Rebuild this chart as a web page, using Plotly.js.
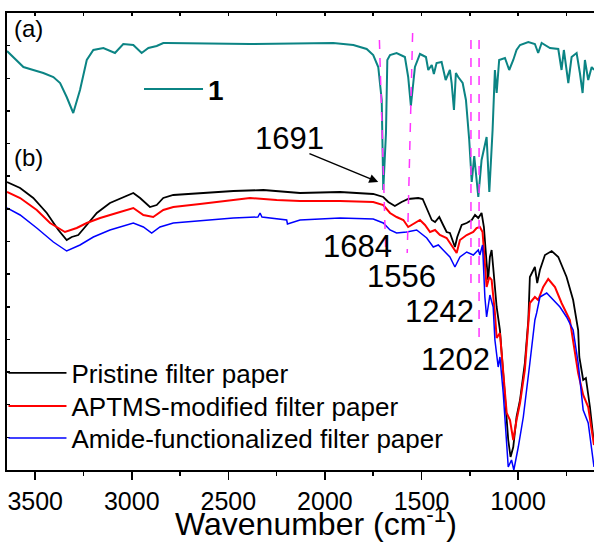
<!DOCTYPE html>
<html>
<head>
<meta charset="utf-8">
<script src="https://cdn.plot.ly/plotly-3.0.1.min.js"></script>
<style>html,body{margin:0;padding:0;background:#fff;}#chart{width:594px;height:543px;}</style>
</head>
<body>
<div id="chart"></div>
<script>
// ---- Data (wavenumber in cm^-1, transmittance in arbitrary units) ----
const waveA = [3646,3613,3561,3510,3458,3406,3371,3337,3303,3268,3233,3199,3147,3087,3044,2992,2949,2914,2871,2837,2819,2388,2129,1957,1853,1784,1750,1724,1706,1698,1684,1677,1663,1629,1586,1569,1555,1534,1508,1477,1465,1447,1436,1422,1396,1375,1353,1344,1332,1322,1310,1287,1270,1253,1240,1227,1206,1189,1163,1149,1132,1120,1111,1098,1068,1046,1025,1008,990,947,913,896,878,835,792,775,763,740,723,697,680,666,654,637,619,607];
const transA = [419,413,403,400,397,393,387,373,357,380,410,420,422,417,426,425,417,422,424,427,427,426,427,427,425,421,415,403,370,280,337,410,415,417,413,393,364,403,416,413,400,405,396,407,408,390,400,387,360,397,393,387,370,330,288,314,273,310,333,278,340,400,377,410,412,400,410,420,425,428,426,417,427,422,421,400,420,387,413,417,397,377,410,390,403,400];

const waveBlack = [3646,3578,3510,3440,3380,3337,3311,3277,3233,3181,3113,3044,2992,2957,2906,2871,2837,2785,2647,2474,2319,2216,2129,1922,1750,1698,1672,1638,1603,1569,1517,1494,1473,1447,1430,1408,1388,1370,1353,1327,1315,1292,1266,1240,1223,1206,1189,1177,1163,1155,1146,1137,1129,1111,1094,1077,1059,1051,1039,1025,1008,990,965,947,939,913,901,887,861,826,792,749,715,689,683,663,649,628,611,607];
const transBlack = [288,282,272,257,240,230,233,235,245,257,267,273,277,272,263,265,272,275,277,279,280,278,277,278,276,273,268,264,268,271,272,271,262,250,248,253,245,238,237,223,233,245,247,250,255,252,257,243,207,190,213,220,203,163,140,100,57,30,13,23,53,70,107,150,193,203,187,200,215,219,213,193,170,140,113,90,92,63,33,30];

const waveRed = [3646,3578,3492,3423,3346,3285,3233,3164,3078,2992,2940,2889,2837,2785,2647,2474,2388,2250,2129,1922,1750,1698,1663,1629,1594,1569,1534,1508,1482,1456,1430,1405,1370,1336,1318,1301,1266,1232,1215,1198,1184,1172,1163,1149,1137,1120,1111,1094,1077,1059,1042,1025,1008,990,965,939,913,896,870,844,809,775,732,689,663,637,611,607];
const transRed = [278,272,260,247,238,242,247,252,257,262,255,253,260,263,266,270,272,270,269,269,268,265,257,253,250,243,247,250,245,238,240,235,232,222,217,230,235,238,242,243,238,207,183,193,190,157,132,137,100,57,50,30,50,67,100,167,173,170,183,191,183,167,150,97,75,63,30,25];

const waveBlue = [3646,3578,3492,3406,3337,3268,3199,3113,2992,2940,2897,2854,2785,2647,2474,2347,2336,2326,2198,2194,2129,1922,1750,1698,1663,1629,1577,1525,1473,1439,1413,1388,1353,1327,1301,1266,1232,1206,1198,1184,1172,1163,1146,1129,1120,1103,1094,1077,1059,1051,1034,1022,999,973,939,913,904,887,852,818,783,749,715,689,663,637,619,607];
const transBlue = [262,255,242,228,219,225,233,240,247,243,237,243,247,249,252,253,257,253,250,246,250,252,251,247,240,237,238,240,232,223,225,220,213,203,213,218,215,220,215,225,173,153,175,163,130,103,113,77,23,3,10,0,23,53,107,150,157,173,177,170,163,153,140,107,60,47,23,3];

const seriesNames = ['Pristine filter paper','APTMS-modified filter paper','Amide-functionalized filter paper'];
const seriesColors = ['#000000','#ff0000','#0000ff'];
const seriesA = '1';
const xTickVals = [3500,3000,2500,2000,1500,1000];
const xTickText = ['3500','3000','2500','2000','1500','1000'];
const peakLabels = ['1691','1684','1556','1242','1202'];
const peakLabelX = [2181,1832,1606,1405,1324];
const peakLabelY = [332,224,194,159,111];
const panelLabels = ['(a)','(b)'];
// dashed marker lines: [x0, y0, x1, y1]
const markerX0 = [1718,1546,1244,1202];
const markerY0 = [430,437,430,430];
const markerX1 = [1686,1574,1244,1202];
const markerY1 = [223,217,187,133];

const FONT = 'Arial, "Liberation Sans", Helvetica, sans-serif';

const traces = [
  {x: waveA, y: transA, type:'scatter', mode:'lines', name: seriesA, xaxis:'x2', yaxis:'y',
   line:{color:'#0b8484', width:2}, legend:'legend2'},
  {x: waveBlack, y: transBlack, type:'scatter', mode:'lines', name: seriesNames[0], line:{color:seriesColors[0], width:1.8}, legend:'legend'},
  {x: waveRed, y: transRed, type:'scatter', mode:'lines', name: seriesNames[1], line:{color:seriesColors[1], width:2}, legend:'legend3'},
  {x: waveBlue, y: transBlue, type:'scatter', mode:'lines', name: seriesNames[2], line:{color:seriesColors[2], width:1.5}, legend:'legend4'}
];

const shapes = markerX0.map((x0,i)=>({type:'line', xref:'x', yref:'y', x0:x0, y0:markerY0[i], x1:markerX1[i], y1:markerY1[i],
  line:{color:'#ff33ff', width:1.5, dash:'dash'}}));

const annotations = [];
peakLabels.forEach((t,i)=>annotations.push({x:peakLabelX[i], y:peakLabelY[i], xref:'x', yref:'y', text:t, showarrow:false,
  font:{family:FONT, size:31, color:'#000'}, xanchor:'center', yanchor:'middle'}));
annotations.push({x:1724, y:288, ax:2088, ay:317, xref:'x', yref:'y', axref:'x', ayref:'y', text:'', showarrow:true,
  arrowhead:2, arrowsize:1.2, arrowwidth:1.5, arrowcolor:'#000'});
annotations.push({x:0.036, y:0.967, xref:'paper', yref:'paper', text:panelLabels[0], showarrow:false,
  font:{family:FONT, size:24, color:'#000'}, xanchor:'center', yanchor:'middle'});
annotations.push({x:0.036, y:0.683, xref:'paper', yref:'paper', text:panelLabels[1], showarrow:false,
  font:{family:FONT, size:24, color:'#000'}, xanchor:'center', yanchor:'middle'});
annotations.push({x:0.526, y:-0.1597, xref:'paper', yref:'paper', text:'Wavenumber (cm<sup>-1</sup>)', showarrow:false,
  font:{family:FONT, size:32, color:'#000'}, xanchor:'center', yanchor:'bottom', borderpad:0});

const legFont = {family:FONT, size:26, color:'#000'};
const legBase = {x:-0.006, xanchor:'left', yanchor:'top', bgcolor:'rgba(0,0,0,0)', borderwidth:0, font:legFont, itemwidth:58};

const layout = {
  width:594, height:543,
  margin:{l:7, r:0, t:13, b:73},
  paper_bgcolor:'#fff', plot_bgcolor:'#fff',
  font:{family:FONT, color:'#000'},
  showlegend:true,
  xaxis:{range:[3646,607], showgrid:false, zeroline:false, showline:true, linecolor:'#000', linewidth:2,
    ticks:'outside', ticklen:8, tickwidth:1.5, tickcolor:'#000', tickvals:xTickVals, ticktext:xTickText,
    tickfont:{family:FONT, size:25, color:'#000'},
    minor:{ticks:'outside', ticklen:4, tickwidth:1.5, tickcolor:'#000', dtick:250, tick0:1000}},
  xaxis2:{matches:'x', overlaying:'x', side:'top', anchor:'y', showgrid:false, zeroline:false, showline:true,
    linecolor:'#000', linewidth:2, ticks:'inside', ticklen:3, tickwidth:1.5, tickcolor:'#000', tick0:1000, dtick:250,
    showticklabels:false},
  yaxis:{range:[0,457], showgrid:false, zeroline:false, showline:true, linecolor:'#000', linewidth:2,
    ticks:'inside', ticklen:3, tickwidth:1.5, tickcolor:'#000', tick0:0, dtick:32.64, showticklabels:false},
  legend:Object.assign({}, legBase, {y:0.2637}),
  legend3:Object.assign({}, legBase, {y:0.1915}),
  legend4:Object.assign({}, legBase, {y:0.1214}),
  legend2:{x:0.2249, y:0.833, xanchor:'left', yanchor:'middle', bgcolor:'rgba(0,0,0,0)', borderwidth:0,
    font:{family:FONT, size:28, color:'#000', weight:'bold'}, itemwidth:59},
  shapes:shapes,
  annotations:annotations
};

Plotly.newPlot('chart', traces, layout, {displayModeBar:false, staticPlot:true});
</script>
</body>
</html>
